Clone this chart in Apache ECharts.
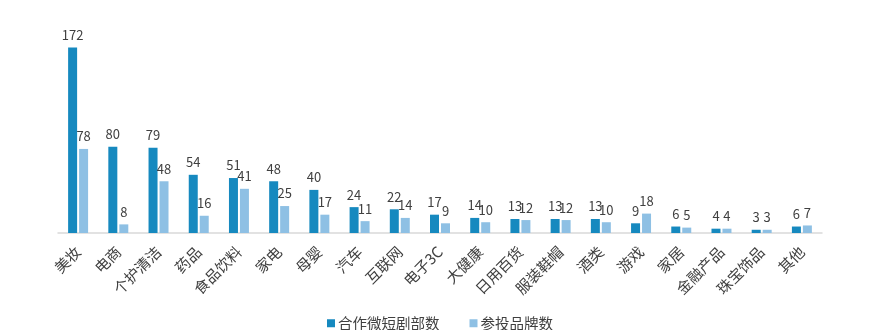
<!DOCTYPE html>
<html>
<head>
<meta charset="utf-8">
<script src="https://cdn.jsdelivr.net/npm/echarts@6/dist/echarts.min.js"></script>
<style>html,body{margin:0;padding:0;background:#fff;}#c{width:894px;height:330px;}</style>
</head>
<body>
<div id="c"></div>
<script>
const categories = ['美妆','电商','个护清洁','药品','食品饮料','家电','母婴','汽车','互联网','电子3C','大健康','日用百货','服装鞋帽','酒类','游戏','家居','金融产品','珠宝饰品','其他'];
const dramaCounts = [172,80,79,54,51,48,40,24,22,17,14,13,13,13,9,6,4,3,6];
const brandCounts = [78,8,48,16,41,25,17,11,14,9,10,12,12,10,18,5,4,3,7];
const seriesNames = ['合作微短剧部数','参投品牌数'];

const font = '"Noto Sans CJK SC", "Noto Sans", sans-serif';
const chart = echarts.init(document.getElementById('c'));
chart.setOption({
  animation: false,
  backgroundColor: '#ffffff',
  textStyle: { fontFamily: font },
  legend: {
    data: seriesNames,
    left: 322, top: 311,
    itemWidth: 8, itemHeight: 8, itemGap: 30,
    icon: 'rect',
    textStyle: { fontSize: 14.5, color: '#404040', fontFamily: font, padding: [0,0,0,-2] }
  },
  grid: { left: 58, right: 72, top: 39, bottom: 97, containLabel: false },
  xAxis: {
    type: 'category',
    data: categories,
    axisLine: { lineStyle: { color: '#d9d9d9', width: 1.5 } },
    axisTick: { show: false },
    axisLabel: { rotate: 45, fontSize: 15, color: '#404040', margin: 16, interval: 0, fontFamily: font }
  },
  yAxis: { type: 'value', min: 0, max: 180, show: false, splitLine: { show: false } },
  series: [
    {
      name: seriesNames[0], type: 'bar', data: dramaCounts,
      barWidth: 9, barGap: '22%',
      itemStyle: { color: '#1689BF' },
      label: { show: true, position: 'top', distance: 6, fontSize: 13, color: '#404040', fontFamily: font }
    },
    {
      name: seriesNames[1], type: 'bar', data: brandCounts,
      barWidth: 9,
      itemStyle: { color: '#8EC0E4' },
      label: { show: true, position: 'top', distance: 6, fontSize: 13, color: '#404040', fontFamily: font }
    }
  ]
});
</script>
</body>
</html>
